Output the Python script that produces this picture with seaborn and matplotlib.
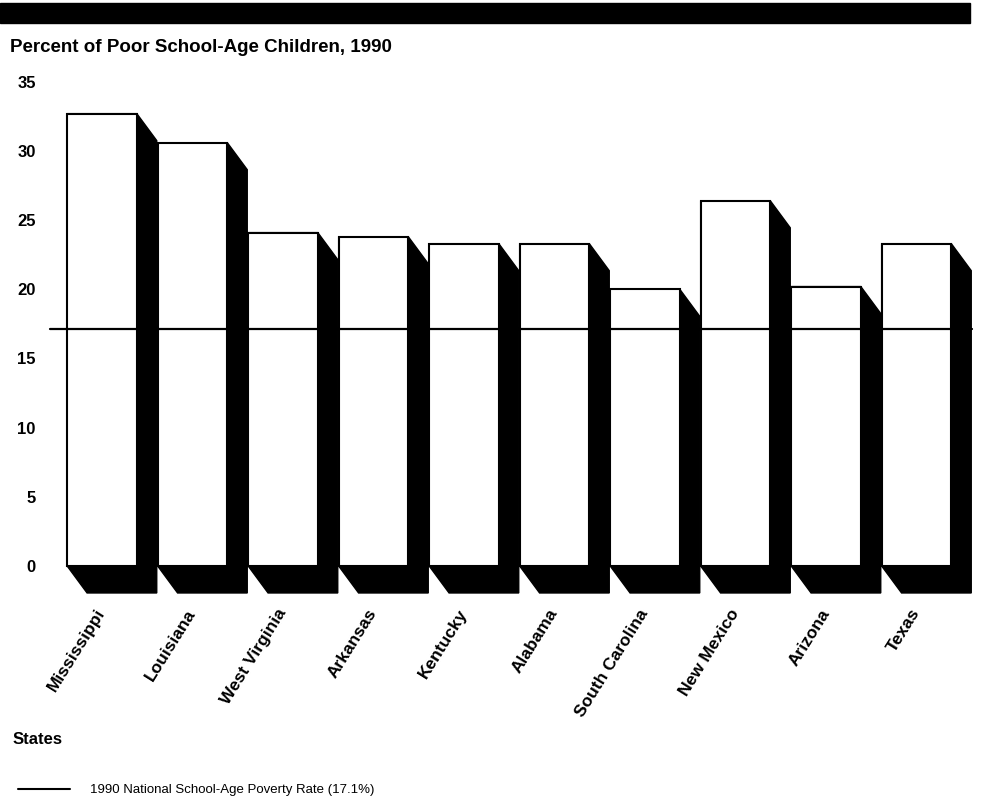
import pandas as pd
import matplotlib
matplotlib.use("Agg")
import matplotlib.pyplot as plt
from matplotlib.patches import Polygon, Rectangle
from matplotlib.lines import Line2D
import seaborn as sns

states = ["Mississippi", "Louisiana", "West Virginia", "Arkansas", "Kentucky",
          "Alabama", "South Carolina", "New Mexico", "Arizona", "Texas"]
percent_poor = [32.7, 30.6, 24.1, 23.8, 23.3, 23.3, 20.0, 26.4, 20.2, 23.3]
national_rate = 17.1
y_ticks = [0, 5, 10, 15, 20, 25, 30, 35]

sns.set_style("white")
plt.rcParams['font.family'] = ['Liberation Sans', 'DejaVu Sans']
plt.rcParams['text.color'] = 'black'
plt.rcParams['xtick.color'] = 'black'
plt.rcParams['ytick.color'] = 'black'

df = pd.DataFrame({"state": states, "pct": percent_poor})

W, H = 984, 802
fig = plt.figure(figsize=(W / 100, H / 100), dpi=100)
ax = fig.add_axes([42 / W, (H - 607.5) / H, 1 - 42 / W, (607.5 - 68) / H])

sns.barplot(data=df, x="state", y="pct", color="white", edgecolor="black",
            linewidth=1.5, width=0.77, saturation=1, errorbar=None, ax=ax, zorder=2)

# black "3d" shadow behind each bar
dx, dy = 0.22, 1.95
for p in list(ax.patches):
    x0 = p.get_x()
    x1 = x0 + p.get_width()
    top = p.get_height()
    ax.add_patch(Polygon([(x0, top), (x1, top), (x1 + dx, top - dy), (x1 + dx, -dy),
                          (x0 + dx, -dy), (x0, 0)], closed=True, fc="black", ec="black",
                         lw=1, zorder=1))

ax.plot([-0.575, 9.61], [national_rate, national_rate], color="black", lw=1.6, zorder=3)

ax.set_xlim((42 - 102) / 90.5, (984 - 102) / 90.5)
ax.set_ylim(-3, 36)
ax.set_yticks(y_ticks)
ax.set_yticklabels([str(t) for t in y_ticks], fontsize=12, fontweight="bold", color="black")
ax.set_xticks(range(len(states)))
ax.set_xticklabels(states, rotation=58, ha="right", va="center", rotation_mode="anchor",
                   fontsize=12.5, fontweight="bold", color="black")
ax.tick_params(axis="y", length=0, pad=4.5)
ax.tick_params(axis="x", length=0, pad=2)
ax.set_xlabel("")
ax.set_ylabel("")
for s in ax.spines.values():
    s.set_visible(False)

fig.add_artist(Rectangle((0, 1 - 23 / H), 970 / W, 20 / H, transform=fig.transFigure,
                         color="black"))
fig.text(10 / W, 1 - 48 / H, "Percent of Poor School-Age Children, 1990",
         fontsize=13.5, fontweight="bold", va="center", color="black")
fig.text(13 / W, 1 - 740 / H, "States", fontsize=12, fontweight="bold", va="center",
         color="black")
fig.add_artist(Line2D([18 / W, 70 / W], [1 - 789 / H] * 2, color="black", lw=1.5))
fig.text(90 / W, 1 - 790 / H, "1990 National School-Age Poverty Rate (17.1%)",
         fontsize=9.5, va="center", color="black")

fig.savefig("out.png", dpi=100)
